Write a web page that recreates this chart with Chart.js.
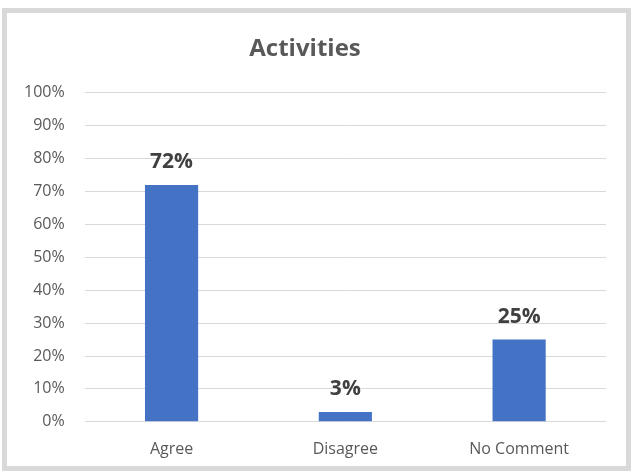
<!DOCTYPE html>
<html>
<head>
<meta charset="utf-8">
<script src="https://cdn.jsdelivr.net/npm/chart.js@4"></script>
<style>
    html, body { margin: 0; padding: 0; background: #fff; }
    #wrap { position: relative; width: 631px; height: 471px; }
    #frame {
        position: absolute; left: 2px; top: 8px; width: 619px; height: 453px;
        border: 5px solid #d9d9d9; pointer-events: none;
    }
</style>
</head>
<body>
<div id="wrap">
    <canvas id="activityChart" width="631" height="471"></canvas>
    <div id="frame"></div>
</div>
<script>
// data
const categories = ['Agree', 'Disagree', 'No Comment'];
const shares = [0.72, 0.03, 0.25];
const yTicks = [0, 0.1, 0.2, 0.3, 0.4, 0.5, 0.6, 0.7, 0.8, 0.9, 1.0];

const textGrey = '#595959';
const fontFamily = "'Open Sans', 'Liberation Sans', sans-serif";

// draws the percent above each bar
const barLabels = {
    id: 'barLabels',
    afterDatasetsDraw(chart) {
        const ctx = chart.ctx;
        const meta = chart.getDatasetMeta(0);
        ctx.save();
        ctx.font = 'bold 21px ' + fontFamily;
        ctx.fillStyle = '#404040';
        ctx.textAlign = 'center';
        ctx.textBaseline = 'bottom';
        meta.data.forEach(function (bar, i) {
            ctx.fillText(Math.round(shares[i] * 100) + '%', bar.x, bar.y - 12);
        });
        ctx.restore();
    }
};

new Chart(document.getElementById('activityChart').getContext('2d'), {
    type: 'bar',
    data: {
        labels: categories,
        datasets: [{
            label: 'Activities',
            data: shares,
            backgroundColor: '#4472c4',
            barPercentage: 0.6,
            categoryPercentage: 0.51
        }]
    },
    options: {
        responsive: false,
        animation: false,
        layout: { padding: { left: 4, right: 25, top: 35, bottom: 2 } },
        plugins: {
            legend: { display: false },
            tooltip: { enabled: false },
            title: {
                display: true,
                text: 'Activities',
                color: textGrey,
                font: { family: fontFamily, size: 24, weight: 'bold' },
                padding: { top: 0, bottom: 29 }
            }
        },
        scales: {
            x: {
                grid: { display: false },
                border: { display: false },
                ticks: { color: textGrey, font: { family: fontFamily, size: 16 }, padding: 10 }
            },
            y: {
                min: 0,
                max: 1,
                afterBuildTicks: function (axis) {
                    axis.ticks = yTicks.map(function (v) { return { value: v }; });
                },
                grid: { color: '#d9d9d9', lineWidth: 1, drawTicks: false },
                border: { display: false },
                ticks: {
                    color: textGrey,
                    font: { family: fontFamily, size: 16 },
                    padding: 20,
                    callback: function (value) { return Math.round(value * 100) + '%'; }
                }
            }
        }
    },
    plugins: [barLabels]
});
</script>
</body>
</html>
